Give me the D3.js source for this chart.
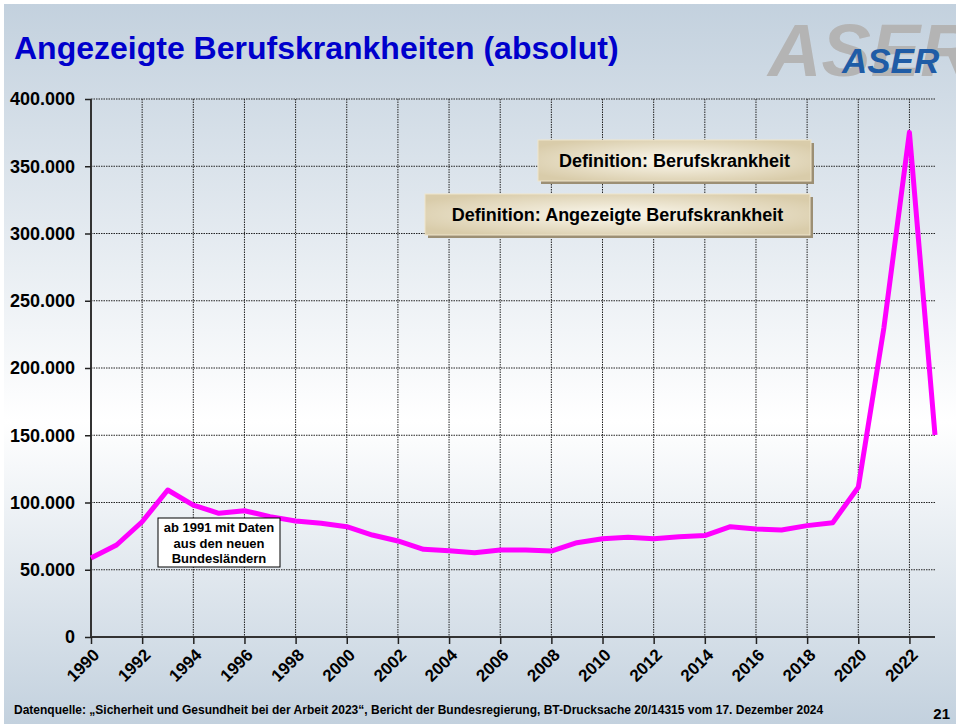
<!DOCTYPE html>
<html>
<head>
<meta charset="utf-8">
<script src="https://cdn.jsdelivr.net/npm/d3@7"></script>
<style>
  html, body { margin: 0; padding: 0; background: #fff; }
  svg { display: block; font-family: "Liberation Sans", Arial, sans-serif; }
</style>
</head>
<body>
<div class="chart"></div>
<script>
const years = d3.range(1990, 2024);
const cases = [
  58700, 68400, 85700, 109300, 98100, 92000, 93900, 89500, 86200, 84500,
  82000, 75800, 71400, 65200, 64200, 62700, 64700, 64700, 63900, 70100,
  73100, 74100, 73100, 74600, 75400, 82000, 80300, 79600, 82800, 85000,
  111300, 229700, 375200, 150200
];
const yTicks = [0, 50000, 100000, 150000, 200000, 250000, 300000, 350000, 400000];
const xTicks = d3.range(1990, 2024, 2);
const noteLines = ['ab 1991 mit Daten', 'aus den neuen', 'Bundesländern'];
const defButtons = ['Definition: Berufskrankheit', 'Definition: Angezeigte Berufskrankheit'];

const W = 956, H = 724;
const margin = { top: 99, right: 21, bottom: 87, left: 91 };
const width = W - margin.left - margin.right;
const height = H - margin.top - margin.bottom;

const svg = d3.select('.chart').append('svg').attr('width', W).attr('height', H);
const defs = svg.append('defs');

const bg = defs.append('linearGradient').attr('id', 'bg').attr('x1', 0).attr('y1', 0).attr('x2', 0).attr('y2', 1);
bg.append('stop').attr('offset', '0%').attr('stop-color', '#c3d1de');
bg.append('stop').attr('offset', '58%').attr('stop-color', '#ffffff');
bg.append('stop').attr('offset', '100%').attr('stop-color', '#c3d1de');

const btn = defs.append('radialGradient').attr('id', 'btn').attr('cx', '50%').attr('cy', '50%').attr('r', '60%');
btn.append('stop').attr('offset', '0%').attr('stop-color', '#fbf8ee');
btn.append('stop').attr('offset', '100%').attr('stop-color', '#d9ccaa');

svg.append('rect').attr('x', 4).attr('y', 4).attr('width', W - 4).attr('height', H - 4).attr('fill', 'url(#bg)');

// title
svg.append('text')
  .attr('x', 14).attr('y', 59)
  .attr('fill', '#0000cc')
  .attr('font-size', 32).attr('font-weight', 'bold')
  .text('Angezeigte Berufskrankheiten (absolut)');

// logo
svg.append('text')
  .attr('x', 768).attr('y', 76)
  .attr('fill', '#b4b4b4').attr('font-size', 74)
  .attr('font-weight', 'bold').attr('font-style', 'italic')
  .text('ASER');
svg.append('text')
  .attr('x', 842).attr('y', 73)
  .attr('fill', '#1f5ca6').attr('font-size', 35)
  .attr('font-weight', 'bold').attr('font-style', 'italic')
  .text('ASER');

const g = svg.append('g').attr('transform', `translate(${margin.left},${margin.top})`);

const x = d3.scaleLinear().domain([1990, 2023]).range([0, width]);
const y = d3.scaleLinear().domain([0, 400000]).range([height, 0]);
const fmt = v => d3.format(',')(v).replace(/,/g, '.');

// grid
g.append('g').selectAll('line').data(yTicks.slice(1)).join('line')
  .attr('x1', 0).attr('x2', width)
  .attr('y1', d => y(d)).attr('y2', d => y(d))
  .attr('stroke', '#222').attr('stroke-width', 1).attr('stroke-dasharray', '1.5,1');
g.append('g').selectAll('line').data(xTicks.slice(1)).join('line')
  .attr('x1', d => x(d)).attr('x2', d => x(d))
  .attr('y1', 0).attr('y2', height)
  .attr('stroke', '#222').attr('stroke-width', 1).attr('stroke-dasharray', '1.5,1');

// axes
const yAxis = g.append('g')
  .call(d3.axisLeft(y).tickValues(yTicks).tickFormat(fmt).tickSize(6).tickPadding(10));
const xAxis = g.append('g').attr('transform', `translate(0,${height})`)
  .call(d3.axisBottom(x).tickValues(xTicks).tickFormat(d3.format('d')).tickSize(7));
[yAxis, xAxis].forEach(a => {
  a.select('.domain').attr('stroke', '#333').attr('stroke-width', 2);
  a.selectAll('.tick line').attr('stroke', '#222').attr('stroke-width', 1.5);
  a.selectAll('text').attr('fill', '#000').attr('font-weight', 'bold')
    .attr('font-family', '"Liberation Sans", Arial, sans-serif');
});
xAxis.select('.domain').attr('d', `M0,0H${width}`);
yAxis.select('.domain').attr('d', `M0,0V${height}`);
yAxis.selectAll('text').attr('font-size', 18);
xAxis.selectAll('text').attr('font-size', 17)
  .attr('text-anchor', 'end')
  .attr('dy', null).attr('y', 0)
  .attr('transform', 'translate(9,19) rotate(-45)');

// line
g.append('path')
  .datum(years.map((yr, i) => [yr, cases[i]]))
  .attr('fill', 'none').attr('stroke', '#ff00ff')
  .attr('stroke-width', 5).attr('stroke-linejoin', 'round')
  .attr('d', d3.line().x(d => x(d[0])).y(d => y(d[1])));

// note box
const note = svg.append('g').attr('transform', 'translate(158,518)');
note.append('rect').attr('width', 122).attr('height', 49)
  .attr('fill', '#fff').attr('stroke', '#000').attr('stroke-width', 1);
note.selectAll('text').data(noteLines).join('text')
  .attr('x', 61).attr('y', (d, i) => 14 + i * 15.5)
  .attr('text-anchor', 'middle').attr('font-size', 13).attr('font-weight', 'bold')
  .text(d => d);

// definition buttons
const btnBoxes = [
  { x: 538, y: 140, w: 273, h: 41 },
  { x: 425, y: 194, w: 385, h: 41 }
];
defButtons.forEach((label, i) => {
  const b = btnBoxes[i];
  const bg2 = svg.append('g').attr('transform', `translate(${b.x},${b.y})`);
  bg2.append('rect').attr('x', 3).attr('y', 3).attr('width', b.w).attr('height', b.h).attr('fill', '#9c8f74');
  bg2.append('rect').attr('width', b.w).attr('height', b.h).attr('fill', 'url(#btn)')
    .attr('stroke', '#efe6cc').attr('stroke-width', 1);
  bg2.append('text').attr('x', b.w / 2).attr('y', b.h / 2 + 6)
    .attr('text-anchor', 'middle').attr('font-size', 18).attr('font-weight', 'bold')
    .text(label);
});

// footer
svg.append('text').attr('x', 14).attr('y', 714)
  .attr('font-size', 12).attr('font-weight', 'bold')
  .text('Datenquelle: „Sicherheit und Gesundheit bei der Arbeit 2023“, Bericht der Bundesregierung, BT-Drucksache 20/14315 vom 17. Dezember 2024');
svg.append('text').attr('x', 950).attr('y', 719).attr('text-anchor', 'end')
  .attr('font-size', 15).attr('font-weight', 'bold').text('21');
</script>
</body>
</html>
